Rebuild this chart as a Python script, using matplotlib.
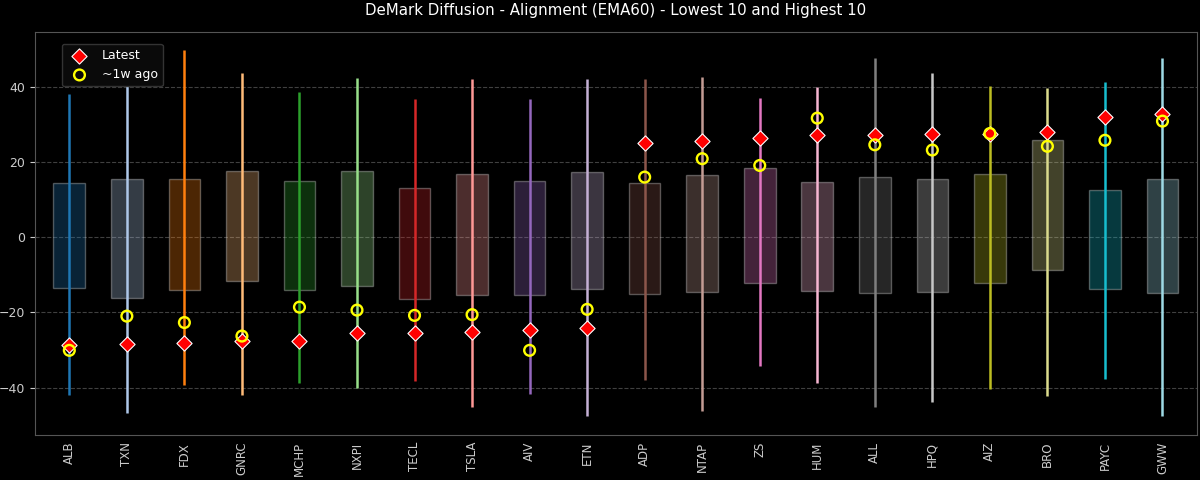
import matplotlib
matplotlib.use("Agg")
import matplotlib.pyplot as plt
import numpy as np

# tickers, lowest 10 then highest 10
tickers = ["ALB", "TXN", "FDX", "GNRC", "MCHP", "NXPI", "TECL", "TSLA", "AIV", "ETN",
           "ADP", "NTAP", "ZS", "HUM", "ALL", "HPQ", "AIZ", "BRO", "PAYC", "GWW"]

# full range (whiskers)
lo = [-42.1, -46.8, -39.4, -42.1, -38.7, -40.0, -38.2, -45.3, -41.6, -47.6,
      -37.9, -46.2, -34.3, -38.8, -45.2, -43.8, -40.3, -42.3, -37.8, -47.6]
hi = [38.2, 42.0, 49.8, 43.8, 38.6, 42.4, 36.7, 42.2, 36.9, 42.2,
      42.1, 42.7, 37.1, 40.0, 47.8, 43.7, 40.3, 39.6, 41.3, 47.6]

# inner band (boxes)
q_lo = [-13.5, -16.2, -14.1, -11.7, -14.1, -13.0, -16.4, -15.3, -15.4, -13.8,
        -15.2, -14.5, -12.3, -14.4, -14.9, -14.7, -12.2, -8.8, -13.7, -14.8]
q_hi = [14.5, 15.4, 15.6, 17.5, 15.0, 17.5, 13.2, 16.7, 15.0, 17.4,
        14.3, 16.6, 18.4, 14.6, 16.1, 15.6, 16.8, 26.0, 12.7, 15.6]

latest = [-28.6, -28.3, -28.1, -27.7, -27.5, -25.6, -25.5, -25.1, -24.7, -24.1,
          25.1, 25.5, 26.4, 27.1, 27.3, 27.5, 27.6, 28.1, 32.0, 32.9]
week_ago = [-30.1, -21.0, -22.7, -26.3, -18.6, -19.4, -20.8, -20.6, -30.1, -19.2,
            16.0, 20.9, 19.1, 31.7, 24.6, 23.2, 27.6, 24.2, 25.8, 30.9]


def main():
    plt.style.use("dark_background")
    fig, ax = plt.subplots(figsize=(12, 4.8), dpi=100)
    fig.subplots_adjust(left=0.029, right=0.9975, top=0.934, bottom=0.094)

    x = np.arange(len(tickers))
    colors = [plt.cm.tab20(i % 20) for i in range(len(tickers))]

    for i in x:
        c = colors[i]
        # box for the inner band
        ax.bar(i, q_hi[i] - q_lo[i], bottom=q_lo[i], width=0.55,
               color=c, alpha=0.3, edgecolor="white", linewidth=1, zorder=2)
        # whisker for the full range
        ax.vlines(i, lo[i], hi[i], color=c, linewidth=1.8, zorder=3)

    ax.scatter(x, latest, marker="D", s=60, color="red", edgecolor="white",
               linewidth=0.8, zorder=5, label="Latest")
    ax.scatter(x, week_ago, marker="o", s=60, facecolor="none", edgecolor="yellow",
               linewidth=1.7, zorder=6, label="~1w ago")

    ax.set_xticks(x)
    ax.set_xticklabels(tickers, rotation=90, fontsize=8.5)
    ax.tick_params(axis="x", length=0, pad=5, colors="#cccccc")
    ax.tick_params(axis="y", labelsize=9, colors="#cccccc")
    ax.set_xlim(-0.6, len(tickers) - 0.4)
    ax.set_ylim(-52.6, 54.7)
    ax.set_yticks([-40, -20, 0, 20, 40])

    ax.grid(axis="y", linestyle="--", color="gray", alpha=0.5, linewidth=0.8)
    ax.set_axisbelow(True)
    for s in ax.spines.values():
        s.set_color("#555555")

    ax.set_title("DeMark Diffusion - Alignment (EMA60) - Lowest 10 and Highest 10",
                 fontsize=10.8, color="white", pad=12)
    ax.legend(loc="upper left", bbox_to_anchor=(0.018, 0.985), fontsize=9,
              facecolor="#0a0a0a", edgecolor="#333333", framealpha=1)

    fig.savefig("out.png", dpi=100, facecolor="black")


if __name__ == "__main__":
    main()
